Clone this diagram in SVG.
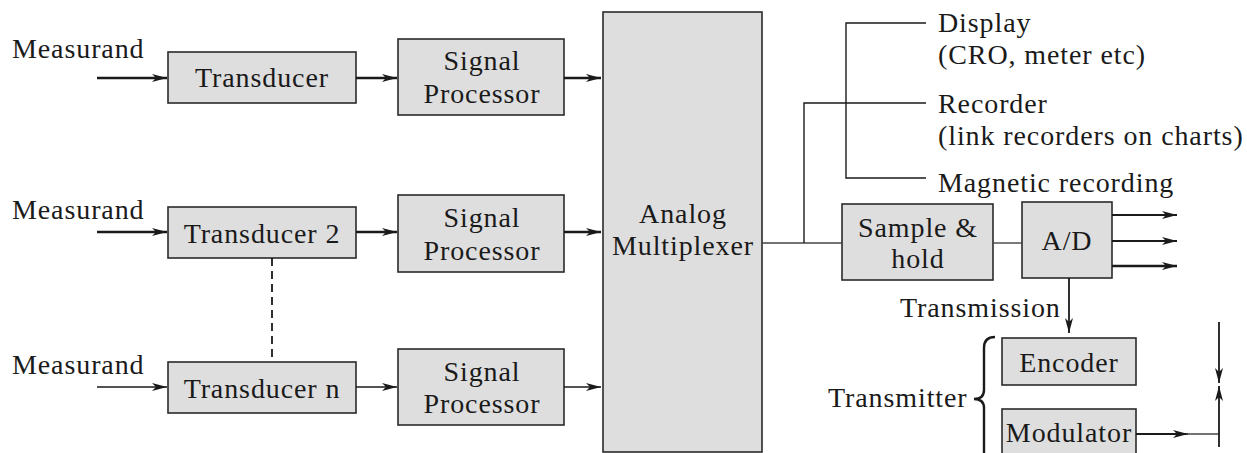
<svg xmlns="http://www.w3.org/2000/svg" width="1247" height="453" viewBox="0 0 1247 453">
  <style>
    .box { fill: #dedede; stroke: #2a2a2a; stroke-width: 1.6; }
    .lbl { font-family: "Liberation Serif", "Times New Roman", serif; font-size: 28px; letter-spacing: 0.9px; fill: #1a1a1a; }
    .mid { text-anchor: middle; }
    .wire { fill: none; stroke: #1a1a1a; stroke-width: 1.8; }
    .thin { stroke-width: 1.4; }
    .bold { stroke-width: 2.4; }
    .gray { stroke: #444; }
  </style>
  <defs>
    <marker id="arr" markerUnits="userSpaceOnUse" markerWidth="16" markerHeight="10" refX="15" refY="4.5" orient="auto">
      <path d="M0,0.5 L15,4.5 L0,8.5 L4,4.5 z" fill="#1a1a1a"/>
    </marker>
  </defs>

  <rect width="1247" height="453" fill="#fff"/>

  <!-- input labels -->
  <text class="lbl" x="12" y="58">Measurand</text>
  <text class="lbl" x="12" y="219">Measurand</text>
  <text class="lbl" x="12" y="374">Measurand</text>

  <g id="transducer1">
    <rect class="box" x="168" y="52" width="188" height="51"/>
    <text class="lbl mid" x="262" y="87">Transducer</text>
  </g>
  <g id="transducer2">
    <rect class="box" x="168" y="207" width="188" height="51"/>
    <text class="lbl mid" x="262" y="243">Transducer 2</text>
  </g>
  <g id="transducern">
    <rect class="box" x="168" y="362" width="188" height="51"/>
    <text class="lbl mid" x="262" y="398">Transducer n</text>
  </g>

  <g id="processor1">
    <rect class="box" x="398" y="39" width="166" height="76"/>
    <text class="lbl mid" x="482" y="70">Signal</text>
    <text class="lbl mid" x="482" y="103">Processor</text>
  </g>
  <g id="processor2">
    <rect class="box" x="398" y="195" width="166" height="77"/>
    <text class="lbl mid" x="482" y="227">Signal</text>
    <text class="lbl mid" x="482" y="260">Processor</text>
  </g>
  <g id="processor3">
    <rect class="box" x="398" y="349" width="166" height="76"/>
    <text class="lbl mid" x="482" y="381">Signal</text>
    <text class="lbl mid" x="482" y="413">Processor</text>
  </g>

  <g id="multiplexer">
    <rect class="box" x="603" y="12" width="159" height="440"/>
    <text class="lbl mid" x="683" y="223">Analog</text>
    <text class="lbl mid" x="683" y="255">Multiplexer</text>
  </g>

  <g id="sample-hold">
    <rect class="box" x="842" y="204" width="151" height="76"/>
    <text class="lbl mid" x="918" y="237">Sample &amp;</text>
    <text class="lbl mid" x="918" y="268">hold</text>
  </g>

  <g id="adc">
    <rect class="box" x="1022" y="202" width="90" height="76"/>
    <text class="lbl mid" x="1067" y="250">A/D</text>
  </g>

  <g id="encoder">
    <rect class="box" x="1002" y="338" width="134" height="47"/>
    <text class="lbl mid" x="1069" y="372">Encoder</text>
  </g>

  <g id="modulator">
    <rect class="box" x="1002" y="409" width="134" height="50"/>
    <text class="lbl mid" x="1069" y="442">Modulator</text>
  </g>

  <!-- output devices -->
  <text class="lbl" x="938" y="32">Display</text>
  <text class="lbl" x="938" y="64">(CRO, meter etc)</text>
  <text class="lbl" x="938" y="113">Recorder</text>
  <text class="lbl" x="938" y="145">(link recorders on charts)</text>
  <text class="lbl" x="938" y="192">Magnetic recording</text>
  <text class="lbl" x="900" y="317">Transmission</text>
  <text class="lbl" x="828" y="407">Transmitter</text>

  <g id="connectors">
    <!-- measurands into transducers -->
    <line class="wire bold" x1="97" y1="78" x2="167" y2="78" marker-end="url(#arr)"/>
    <line class="wire bold" x1="97" y1="232" x2="167" y2="232" marker-end="url(#arr)"/>
    <line class="wire thin" x1="97" y1="387" x2="167" y2="387" marker-end="url(#arr)"/>
    <!-- transducers into processors -->
    <line class="wire bold" x1="356" y1="78" x2="397" y2="78" marker-end="url(#arr)"/>
    <line class="wire bold" x1="356" y1="232" x2="397" y2="232" marker-end="url(#arr)"/>
    <line class="wire thin" x1="356" y1="387" x2="397" y2="387" marker-end="url(#arr)"/>
    <!-- processors into multiplexer -->
    <line class="wire bold" x1="564" y1="78" x2="601" y2="78" marker-end="url(#arr)"/>
    <line class="wire bold" x1="564" y1="232" x2="601" y2="232" marker-end="url(#arr)"/>
    <line class="wire thin" x1="564" y1="387" x2="601" y2="387" marker-end="url(#arr)"/>
    <!-- omitted channels -->
    <line class="wire" x1="272" y1="258" x2="272" y2="362" stroke-dasharray="8,5"/>

    <!-- multiplexer output bus -->
    <line class="wire thin gray" x1="762" y1="243" x2="842" y2="243"/>
    <polyline class="wire thin" points="804,243 804,103 926,103"/>
    <polyline class="wire thin" points="926,23 846,23 846,178 926,178"/>
    <line class="wire thin gray" x1="993" y1="243" x2="1022" y2="243"/>

    <!-- digital outputs -->
    <line class="wire" x1="1112" y1="215" x2="1177" y2="215" marker-end="url(#arr)"/>
    <line class="wire" x1="1112" y1="241" x2="1177" y2="241" marker-end="url(#arr)"/>
    <line class="wire bold" x1="1112" y1="266" x2="1177" y2="266" marker-end="url(#arr)"/>

    <!-- transmission path -->
    <line class="wire" x1="1069" y1="278" x2="1069" y2="333" marker-end="url(#arr)"/>
    <line class="wire" x1="1136" y1="434" x2="1188" y2="434" marker-end="url(#arr)"/>
    <line class="wire thin gray" x1="1186" y1="434" x2="1219" y2="434"/>
    <line class="wire" x1="1219" y1="322" x2="1219" y2="383" marker-end="url(#arr)"/>
    <line class="wire" x1="1219" y1="447" x2="1219" y2="386" marker-end="url(#arr)"/>

    <!-- transmitter brace -->
    <path class="wire bold" d="M995,337 Q984,337 984,348 L984,390 Q984,399 974,399 Q984,399 984,408 L984,456"/>
  </g>
</svg>
